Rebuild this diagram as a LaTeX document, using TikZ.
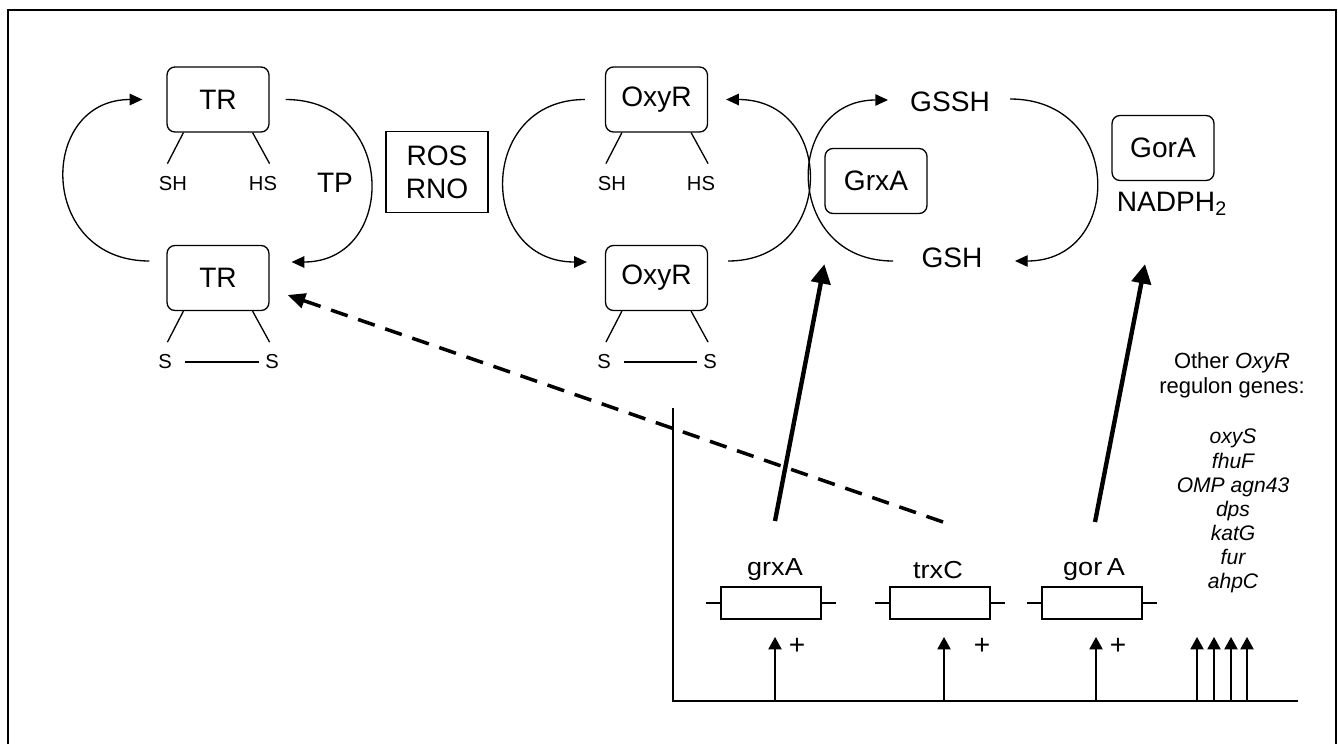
\documentclass[tikz,border=0pt]{standalone}
\usepackage{fontspec}
\setmainfont{Liberation Sans}
\usetikzlibrary{arrows.meta,calc}

\begin{document}
\begin{tikzpicture}[x=0.02cm,y=-0.02cm,line width=0.75pt,
    prot/.style={draw=black,rounded corners=4.5pt,minimum width=58pt,minimum height=37pt,font=\fontsize{16}{19}\selectfont},
    big/.style={font=\fontsize{16}{19}\selectfont},
    small/.style={font=\fontsize{11.5}{13}\selectfont,inner sep=0pt},
    gene/.style={draw=black,line width=1.1pt,minimum width=57pt,minimum height=18pt},
    genelbl/.style={font=\fontsize{14}{16}\selectfont},
    pluslbl/.style={font=\fontsize{16}{18}\selectfont},
    cyc/.style={-{Triangle[length=7.2pt,width=6.5pt]}},
    express/.style={-{Triangle[length=11pt,width=11pt]},line width=2.5pt},
    induce/.style={-{Triangle[length=10pt,width=8.5pt]},line width=2pt,dash pattern=on 10pt off 6.3pt},
    up/.style={-{Triangle[length=7pt,width=7.5pt]},line width=0.85pt}]
            \useasboundingbox (0,0) rectangle (1338,744);
            \draw[line width=1.1pt] (8,744) -- (8,10) -- (1336,10) -- (1336,744);
            % thioredoxin cycle
            \node[prot](TRt)at(218, 99.5){TR};
            \node[prot](TRb)at(218, 278){TR};
            \node[small](TRsh)at(173, 184){SH};
            \node[small](TRhs)at(263, 184){HS};
            \node[small](TRs1)at(165, 362){S};
            \node[small](TRs2)at(272, 362){S};
            \node[big](TP)at(335, 183){TP};
            \node[draw=black,align=center,minimum width=58pt,minimum height=46pt,font=\fontsize{16}{18.8}\selectfont](ROS)at(437, 172){ROS\\RNO};
            % OxyR cycle
            \node[prot](OxyRt)at(656.5, 99.5){OxyR};
            \node[prot](OxyRb)at(656.5, 278){OxyR};
            \node[small](OxyRsh)at(612, 184){SH};
            \node[small](OxyRhs)at(701, 184){HS};
            \node[small](OxyRs1)at(604, 362){S};
            \node[small](OxyRs2)at(710, 362){S};
            % glutathione cycle
            \node[prot](GrxA)at(876, 181){GrxA};
            \node[big](GSSH)at(950, 102){GSSH};
            \node[big](GSH)at(952, 258){GSH};
            \node[prot](GorA)at(1163, 148){GorA};
            \node[big](NADPH)at(1172, 204){NADPH\textsubscript{2}};
            % genes
            \coordinate(axtop)at(673, 408);
            \coordinate(axO)at(673, 701);
            \coordinate(axend)at(1298, 701);
            \node[gene](grxAg)at(771, 603){};
            \node[gene](trxCg)at(940, 603){};
            \node[gene](gorAg)at(1092, 603){};
            \node[genelbl](grxAl)at(775, 570){\scalebox{1.1}[1]{grxA}};
            \node[genelbl](trxCl)at(938, 570){\scalebox{1.1}[1]{trxC}};
            \node[genelbl](gorAl)at(1094, 570){\scalebox{1.1}[1]{gor\,A}};
            \node[pluslbl](plus1)at(797, 646){+};
            \node[pluslbl](plus2)at(982, 646){+};
            \node[pluslbl](plus3)at(1118, 646){+};
            \node[align=center,font=\fontsize{12.5}{14.2}\selectfont](other)at(1232, 375){Other \textit{OxyR}\\regulon genes:};
            \node[align=center,font=\fontsize{12}{13.7}\selectfont\itshape](othergenes)at(1233, 511){oxyS\\fhuF\\OMP agn43\\dps\\katG\\fur\\ahpC};

            \foreach \p in {TRt,TRb,OxyRt,OxyRb} {
                \draw ($(\p.south west)+(17,0)$) -- ++(-16,31);
                \draw ($(\p.south east)+(-17,0)$) -- ++(17,31);
            }
            \draw[shorten <=7.2pt,shorten >=3.1pt] (TRs1.east) -- (TRs2.west);
            \draw[shorten <=7.2pt,shorten >=3.1pt] (OxyRs1.east) -- (OxyRs2.west);

            \draw[cyc] ($(TRb.west)+(-17,-17)$) .. controls +(-112,0) and +(-105,0) .. ($(TRt.west)+(-24,0)$);
            \draw[cyc] ($(TRt.east)+(16,0)$) .. controls +(112,0) and +(106,0) .. ($(TRb.east)+(22,-16)$);
            \draw[cyc] ($(OxyRt.west)+(-20,0)$) .. controls +(-108,0) and +(-110,0) .. ($(OxyRb.west)+(-18,-16)$);
            \draw[cyc] ($(OxyRb.east)+(20,-17)$) .. controls +(108,0) and +(110,0) .. ($(OxyRt.east)+(18,0)$);
            \draw[cyc] ($(GSH)+(-59,3)$) .. controls +(-110,0) and +(-105,0) .. ($(GSSH)+(-62,-2)$);
            \draw[cyc] ($(GSSH)+(60,-3)$) .. controls +(114,0) and +(109,0) .. ($(GSH)+(63,3)$);

            \draw[induce] ($(trxCl)+(5,-48)$) -- ($(TRb.east)+(18,17)$);
            \draw[express] ($(grxAl)+(0,-49)$) -- ($(GrxA.south west)+(0,50)$);
            \draw[express] ($(gorAl)+(1,-48)$) -- ($(GorA.south)+(-18,83)$);

            \draw[line width=1.1pt] (axtop) -- (axO) -- (axend);
            \foreach \g in {grxAg,trxCg,gorAg} {
                \draw (\g.west) -- ++(-14,0);
                \draw (\g.east) -- ++(14,0);
                \draw[up] ($(\g |- axO)+(4,0)$) -- ++(0,-64);
            }
            \foreach \x in {1197,1214,1231,1247}
                \draw[up] (\x, 701) -- ++(0,-64);
        \end{tikzpicture}
\end{document}
